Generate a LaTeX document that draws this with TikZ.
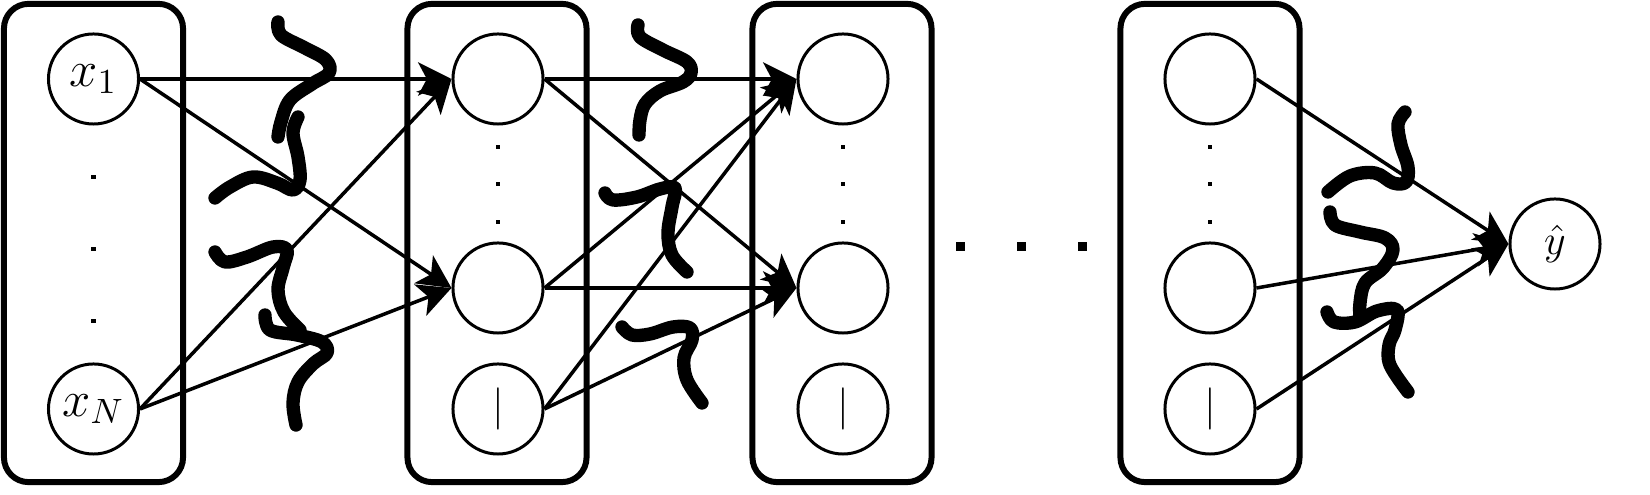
\documentclass[tikz,border=0pt]{standalone}
\usepackage{amsmath,amssymb}
\usetikzlibrary{arrows.meta,positioning}

\begin{document}
\begin{tikzpicture}[x=0.01cm,y=-0.01cm,
  layer/.style={draw,rounded corners=7pt,line width=1.7pt,minimum width=1.79cm,minimum height=4.78cm},
  unit/.style={draw,circle,line width=0.85pt,minimum size=0.9cm,inner sep=0pt,font=\large},
  vdot/.style={fill,inner sep=0pt,minimum size=0.045cm},
  hdot/.style={fill,inner sep=0pt,minimum size=0.09cm},
  conn/.style={line width=1pt,-{Stealth[length=9.5pt,width=9.5pt,inset=2.5pt]}},
  squiggle/.style={line width=3.8pt,line cap=round,line join=round}]
  \useasboundingbox (0,0) rectangle (1650,495);
  % layers
  \node[layer] (lay0) at (93.5,243) {};
  \node[layer] (lay1) at (497,243) {};
  \node[layer] (lay2) at (842,243) {};
  \node[layer] (lay3) at (1210,243) {};
  % units
  \node[unit,font=\Large] (x1) at (93.5,79) {$x_1$};
  \node[unit,font=\Large] (xN) at (93.5,409) {$x_N$};
  \foreach \l/\x in {1/498,2/843,3/1210}{
    \node[unit] (h\l-1) at (\x,79) {};
    \node[unit] (h\l-2) at (\x,288) {};
    \node[unit] (h\l-3) at (\x,409) {$|$};
  }
  \node[unit] (yhat) at (1555,244) {$\hat{y}$};
  % dots
  \foreach \y [count=\i] in {177,249,321} \node[vdot] (d0-\i) at (93.5,\y) {};
  \foreach \l/\x in {1/498,2/843,3/1210}
    \foreach \y [count=\i] in {147,184,222} \node[vdot] (d\l-\i) at (\x,\y) {};
  \foreach \x [count=\i] in {960,1021,1082} \node[hdot] (e\i) at (\x,247) {};
  % weights
  \foreach \s in {x1,xN} \foreach \t in {h1-1,h1-2} \draw[conn] (\s.east) -- (\t.west);
  \foreach \s in {h1-1,h1-2,h1-3} \foreach \t in {h2-1,h2-2} \draw[conn] (\s.east) -- (\t.west);
  \foreach \s in {h3-1,h3-2,h3-3} \draw[conn] (\s.east) -- (yhat.west);
  % squiggles
  \draw[squiggle] plot[smooth,tension=0.6] coordinates {(278,22) (281,35) (305,48) (326,60) (329,73) (312,84) (290,100) (281,122) (278,137)};
  \draw[squiggle] plot[smooth,tension=0.6] coordinates {(298,117) (293,133) (298,157) (300,180) (293,190) (277,183) (253,177) (230,187) (215,198)};
  \draw[squiggle] plot[smooth,tension=0.6] coordinates {(215,252) (225,262) (247,257) (273,247) (287,250) (283,268) (278,290) (284,312) (300,330)};
  \draw[squiggle] plot[smooth,tension=0.6] coordinates {(265,315) (270,330) (297,335) (322,342) (327,353) (313,364) (298,382) (293,403) (296,425)};
  \draw[squiggle] plot[smooth,tension=0.6] coordinates {(638,25) (640,37) (663,50) (687,62) (691,73) (683,82) (660,91) (645,104) (640,120) (639,135)};
  \draw[squiggle] plot[smooth,tension=0.6] coordinates {(605,193) (613,200) (637,197) (660,189) (675,188) (672,207) (668,233) (672,255) (687,272)};
  \draw[squiggle] plot[smooth,tension=0.6] coordinates {(622,327) (632,335) (650,334) (673,327) (690,328) (692,340) (684,358) (687,380) (702,403)};
  \draw[squiggle] plot[smooth,tension=0.6] coordinates {(1405,112) (1398,124) (1401,145) (1408,167) (1406,182) (1393,183) (1375,173) (1350,176) (1328,192)};
  \draw[squiggle] plot[smooth,tension=0.6] coordinates {(1330,212) (1335,225) (1360,232) (1385,238) (1393,250) (1383,268) (1365,283) (1360,303) (1360,318)};
  \draw[squiggle] plot[smooth,tension=0.6] coordinates {(1327,312) (1334,322) (1355,322) (1377,311) (1397,310) (1395,330) (1389,345) (1390,365) (1408,392)};
\end{tikzpicture}
\end{document}
